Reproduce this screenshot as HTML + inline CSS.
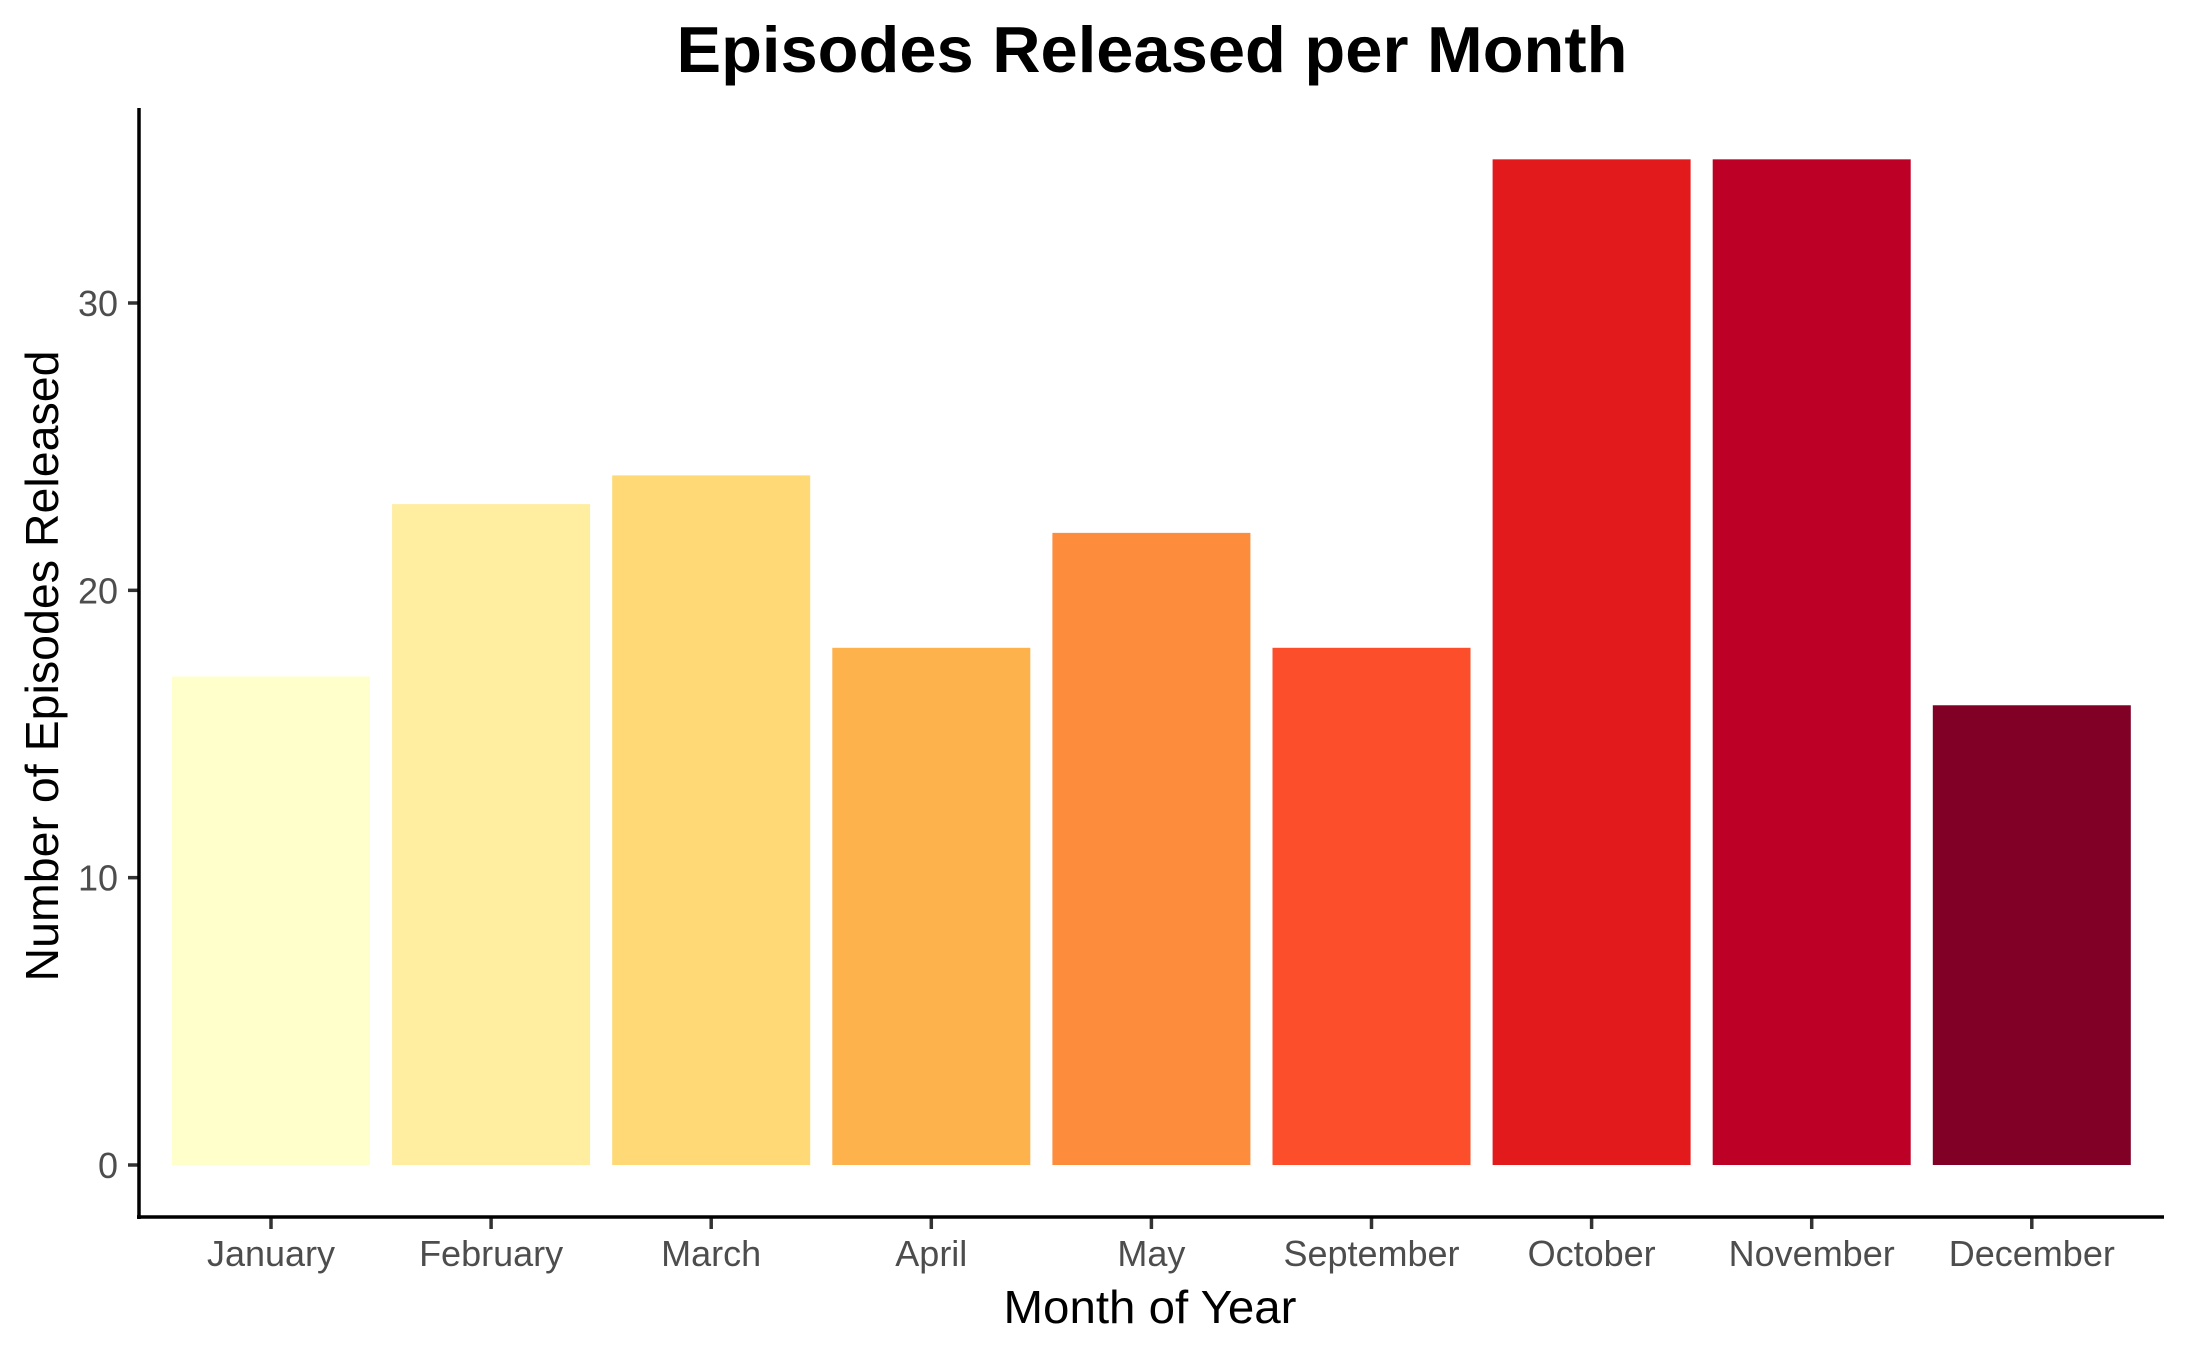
<!DOCTYPE html>
<html><head><meta charset="utf-8"><style>
html,body{margin:0;padding:0;background:#fff;}
svg{display:block;font-family:"Liberation Sans",Arial,sans-serif;}
</style></head><body>
<svg id="chart" width="2187" height="1350" viewBox="0 0 2187 1350" xmlns="http://www.w3.org/2000/svg">
<text x="1152" y="72" text-anchor="middle" font-size="65" font-weight="bold" fill="#000" textLength="951" lengthAdjust="spacingAndGlyphs">Episodes Released per Month</text>
<g id="bars"></g>
<g id="yaxis"></g>
<g id="xaxis"></g>
<line x1="139" y1="108" x2="139" y2="1219" stroke="#000" stroke-width="3.5"/>
<line x1="137" y1="1217" x2="2164" y2="1217" stroke="#000" stroke-width="3.5"/>
<text x="1150" y="1323" text-anchor="middle" font-size="46" fill="#000" textLength="293" lengthAdjust="spacingAndGlyphs">Month of Year</text>
<text transform="translate(58,666) rotate(-90)" text-anchor="middle" font-size="46" fill="#000" textLength="631" lengthAdjust="spacingAndGlyphs">Number of Episodes Released</text>
</svg>
<script>
const categories = ["January","February","March","April","May","September","October","November","December"];
const values = [17,23,24,18,22,18,35,35,16];
const colors = ["#FFFFCC","#FFEDA0","#FED976","#FEB24C","#FD8D3C","#FC4E2A","#E31A1C","#BD0026","#800026"];
const yTicks = [0,10,20,30];

const NS="http://www.w3.org/2000/svg";
const y0=1165, pxPerUnit=(1165-303)/30;
function yScale(v){return y0-v*pxPerUnit;}
const firstCenter=271, step=220.1, barW=198;
function xScale(i){return firstCenter+i*step;}
function mk(tag,attrs){const e=document.createElementNS(NS,tag);for(const k in attrs)e.setAttribute(k,attrs[k]);return e;}
const bars=document.getElementById('bars'), ya=document.getElementById('yaxis'), xa=document.getElementById('xaxis');
values.forEach((v,i)=>{
  const r=mk('rect',{x:xScale(i)-barW/2,y:yScale(v),width:barW,height:yScale(0)-yScale(v),fill:colors[i]});
  
  
  bars.appendChild(r);
  const t=mk('line',{x1:xScale(i),x2:xScale(i),y1:1217,y2:1229,stroke:'#333','stroke-width':3.5});
  
  
  xa.appendChild(t);
  const l=mk('text',{x:xScale(i),y:1266,'text-anchor':'middle','font-size':36,fill:'#4d4d4d'});
  
  
  l.textContent=categories[i];
  xa.appendChild(l);
});
yTicks.forEach(v=>{
  const t=mk('line',{x1:128,x2:139,y1:yScale(v),y2:yScale(v),stroke:'#333','stroke-width':3.5});
  
  
  ya.appendChild(t);
  const l=mk('text',{x:118,y:yScale(v)+13,'text-anchor':'end','font-size':36,fill:'#4d4d4d'});
  
  
  l.textContent=v;
  ya.appendChild(l);
});
</script>
</body></html>
